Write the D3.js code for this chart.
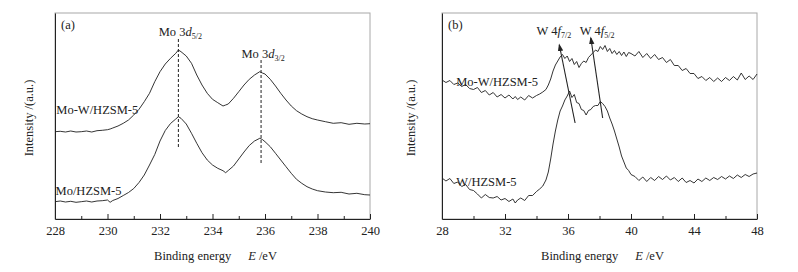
<!DOCTYPE html>
<html lang="en">
<head>
  <meta charset="UTF-8">
  <title>XPS spectra</title>
  <style>
    body { margin: 0; background: #fff; }
    svg text { font-family: "Liberation Serif", "DejaVu Serif", "Times New Roman", serif; fill: #222; }
  </style>
</head>
<body>
<div id="chart"></div>

<script src="https://cdn.jsdelivr.net/npm/d3@7/dist/d3.min.js"></script>
<script>
  // ---- data: panel (a), Mo 3d region ----
  const energyA = [228.0, 228.2, 228.4, 228.6, 228.8, 229.0, 229.2, 229.4, 229.6, 229.8, 230.0, 230.1, 230.2, 230.4,
    230.6, 230.8, 231.0, 231.2, 231.4, 231.6, 231.8, 232.0, 232.2, 232.4, 232.6, 232.7, 232.8, 233.0, 233.2, 233.4,
    233.6, 233.8, 234.0, 234.2, 234.4, 234.5, 234.6, 234.8, 235.0, 235.2, 235.4, 235.6, 235.8, 235.9, 236.0, 236.2,
    236.4, 236.6, 236.8, 237.0, 237.2, 237.4, 237.6, 237.8, 238.0, 238.3, 238.6, 238.9, 239.2, 239.5, 239.8, 240.0];
  const moW_A = [87.3, 87.7, 87.0, 88.0, 87.0, 87.3, 88.0, 87.0, 88.3, 88.7, 89.3, 90.0, 91.0, 93.0,
    95.7, 99.0, 104.0, 109.7, 117.3, 125.7, 137.3, 147.3, 155.0, 160.7, 165.7, 169.0, 167.3, 163.0, 155.7, 144.0,
    134.0, 125.7, 119.7, 116.3, 113.0, 114.0, 115.0, 120.7, 127.3, 134.0, 139.7, 144.0, 147.3, 146.0, 145.0, 139.7,
    133.0, 125.7, 119.0, 113.0, 108.3, 105.0, 102.3, 100.3, 99.0, 97.3, 95.7, 96.3, 94.7, 95.7, 95.0, 95.3];
  const mo_A = [17.3, 18.0, 17.0, 17.7, 16.7, 17.3, 18.0, 17.0, 18.0, 18.3, 19.0, 16.7, 18.5, 20.5,
    23.5, 26.5, 30.5, 36.5, 44.0, 54.0, 64.5, 78.0, 88.5, 95.5, 100.0, 102.3, 100.7, 95.0, 85.7, 75.7,
    66.3, 59.0, 54.0, 50.7, 48.3, 46.3, 48.5, 53.0, 60.0, 67.0, 73.5, 78.0, 80.7, 79.5, 77.3, 72.3,
    65.7, 59.0, 52.3, 45.7, 39.7, 35.7, 32.3, 30.0, 28.3, 27.0, 26.3, 26.7, 25.0, 25.7, 24.3, 24.0];

  // ---- data: panel (b), W 4f region ----
  const energyB = [28.0, 28.25, 28.5, 28.75, 29.0, 29.25, 29.5, 29.75, 30.0, 30.25, 30.5, 30.75, 31.0, 31.25, 31.5,
    31.75, 32.0, 32.25, 32.5, 32.65, 32.8, 33.0, 33.25, 33.5, 33.75, 34.0, 34.2, 34.4, 34.6, 34.75, 34.9, 35.05,
    35.2, 35.35, 35.5, 35.65, 35.8, 35.95, 36.1, 36.25, 36.4, 36.55, 36.7, 36.85, 37.0, 37.15, 37.3, 37.45, 37.6,
    37.75, 37.9, 38.05, 38.2, 38.35, 38.5, 38.65, 38.8, 38.95, 39.1, 39.25, 39.4, 39.55, 39.7, 39.85, 40.0, 40.25,
    40.5, 40.75, 41.0, 41.25, 41.5, 41.75, 42.0, 42.25, 42.5, 42.75, 43.0, 43.25, 43.5, 43.75, 44.0, 44.25, 44.5,
    44.75, 45.0, 45.25, 45.5, 45.75, 46.0, 46.25, 46.5, 46.75, 47.0, 47.25, 47.5, 47.75, 48.0];
  const moW_B = [139, 136.5, 138.5, 134.5, 136, 132.5, 134.5, 130.5, 129.5, 131.5, 126.5, 128.5, 124, 126.5, 122,
    124.5, 121, 124, 120, 122.5, 119.5, 122, 119, 123.5, 121, 123.5, 125, 127, 129.5, 134, 140, 148,
    154, 158, 162, 164.5, 160.5, 163, 157.5, 160.5, 154.5, 157.5, 151.5, 155.5, 158, 156.5, 161.5, 164, 166.5,
    169, 167.5, 172.5, 169.5, 173.5, 167.5, 170.5, 165.5, 168.5, 164.5, 167.5, 163.5, 167, 162.5, 166.5, 165.5, 163,
    167.5, 161.5, 165.5, 160.5, 164.5, 159.5, 161.5, 156.5, 159.5, 153.5, 153.5, 148.5, 150.5, 145.5, 145.5, 140.5, 142.5,
    138.5, 141.5, 137.5, 141, 137.5, 141.5, 138.5, 142.5, 139, 146, 139.5, 143, 139.5, 145];
  const w_B = [41, 38, 40.5, 35.5, 37, 32.5, 34.5, 29.5, 28.5, 25, 21, 24.5, 21.5, 21, 22.5,
    19, 20.5, 17.5, 20, 16, 19, 21, 18.5, 23.5, 23.5, 27.5, 30, 33, 39, 47, 60, 75,
    88, 99, 108, 113, 119, 123, 128, 121.5, 124.5, 116.5, 115.5, 109.5, 108.5, 104, 108.5, 109.5, 112.5,
    113.5, 113.5, 117.5, 115.5, 112.5, 108, 101, 95, 88, 80, 72, 63, 57, 51, 48.5, 44.5, 42.5,
    38.5, 42, 37.5, 41.5, 38.5, 42.5, 39.5, 43, 39, 41.5, 37.5, 41, 36.5, 38.5, 36, 40, 37.5,
    41, 38.5, 41.5, 39.5, 42.5, 40, 43, 40.5, 44, 41.5, 44.5, 42.5, 45, 46];

  // ---- axes ----
  const xMajorA = [228, 230, 232, 234, 236, 238, 240];
  const xMinorA = [229, 231, 233, 235, 237, 239];
  const xMajorB = [28, 32, 36, 40, 44, 48];
  const xMinorB = [30, 34, 38, 42, 46];

  // peak markers (top/bottom of dashed line, label sits above top)
  const moPeaks = [
    {e: 232.7, top: 181, bottom: 72, label: "Mo 3", orb: "d", sub: "5/2"},
    {e: 235.85, top: 159, bottom: 56, label: "Mo 3", orb: "d", sub: "3/2"}
  ];
  const wArrows = [
    {e0: 36.45, v0: 96, e1: 35.45, v1: 174, label: "W 4", orb: "f", sub: "7/2"},
    {e0: 38.2, v0: 101, e1: 37.45, v1: 181, label: "W 4", orb: "f", sub: "5/2"}
  ];

  const W = 798, H = 272;
  const plotTop = 13, plotBottom = 219;

  const svg = d3.select("#chart").append("svg")
    .attr("width", W)
    .attr("height", H);

  svg.append("defs").append("marker")
    .attr("id", "arrow")
    .attr("viewBox", "0 0 10 10")
    .attr("refX", 8).attr("refY", 5)
    .attr("markerWidth", 7).attr("markerHeight", 7)
    .attr("orient", "auto")
    .append("path")
    .attr("d", "M0,1.5 L10,5 L0,8.5 Z")
    .attr("fill", "#222");

  function drawPanel(opt) {
    const x = d3.scaleLinear().domain(opt.domain).range([opt.left, opt.right]);
    const y = d3.scaleLinear().domain([0, 206]).range([plotBottom, plotTop]);
    const g = svg.append("g");

    // light frame on top / right
    g.append("rect")
      .attr("x", opt.left).attr("y", plotTop)
      .attr("width", opt.right - opt.left).attr("height", plotBottom - plotTop)
      .attr("fill", "none").attr("stroke", "#a8a8a8").attr("stroke-width", 1);

    const line = d3.line()
      .x((d, i) => x(opt.energy[i]))
      .y(d => y(d));

    opt.series.forEach(s => {
      g.append("path")
        .datum(s)
        .attr("fill", "none")
        .attr("stroke", "#1e1e1e")
        .attr("stroke-width", 0.9)
        .attr("stroke-linejoin", "round")
        .attr("d", line);
    });

    // bottom axis, ticks pointing inward
    const bottom = g.append("g")
      .attr("transform", "translate(0," + plotBottom + ")")
      .call(d3.axisBottom(x).tickValues(opt.major).tickSizeInner(-5).tickSizeOuter(0).tickPadding(7));
    bottom.attr("font-family", null);
    bottom.selectAll("text").style("font-size", "12.5px").attr("fill", "#222");
    g.append("g")
      .attr("transform", "translate(0," + plotBottom + ")")
      .call(d3.axisBottom(x).tickValues(opt.minor).tickSizeInner(-3).tickSizeOuter(0).tickFormat(""))
      .select(".domain").remove();
    g.selectAll(".domain, .tick line").attr("stroke", "#222");

    // left axis line only
    g.append("g")
      .attr("transform", "translate(" + opt.left + ",0)")
      .call(d3.axisLeft(y).tickValues([]).tickSizeOuter(0))
      .select(".domain").attr("stroke", "#222");

    // axis titles
    const mid = (opt.left + opt.right) / 2;
    const xt = g.append("text")
      .attr("x", mid + 3).attr("y", 260)
      .attr("text-anchor", "middle")
      .style("font-size", "12.5px");
    xt.append("tspan").text("Binding energy");
    xt.append("tspan").attr("dx", 17).style("font-style", "italic").text("E");
    xt.append("tspan").attr("dx", 3).text("/eV");

    g.append("text")
      .attr("transform", "translate(" + (opt.left - opt.yTitleGap) + "," + ((plotTop + plotBottom) / 2 + 2) + ") rotate(-90)")
      .attr("text-anchor", "middle")
      .style("font-size", "12.5px")
      .text("Intensity /(a.u.)");

    g.append("text")
      .attr("x", opt.left + 6).attr("y", 29)
      .style("font-size", "12.5px")
      .text(opt.tag);

    opt.names.forEach(n => {
      g.append("text")
        .attr("x", x(n.e)).attr("y", y(n.v))
        .style("font-size", "12.5px")
        .text(n.text);
    });

    return {g, x, y};
  }

  function peakLabel(g, px, py, p) {
    const t = g.append("text")
      .attr("x", px).attr("y", py)
      .attr("text-anchor", "middle")
      .style("font-size", "12.5px");
    t.append("tspan").text(p.label);
    t.append("tspan").style("font-style", "italic").text(p.orb);
    t.append("tspan").attr("dy", 3).style("font-size", "8px").text(p.sub);
  }

  // panel (a)
  const pa = drawPanel({
    domain: [228, 240], left: 55, right: 370, yTitleGap: 22,
    energy: energyA, series: [moW_A, mo_A],
    major: xMajorA, minor: xMinorA, tag: "(a)",
    names: [{e: 228.05, v: 105, text: "Mo-W/HZSM-5"}, {e: 228.02, v: 24, text: "Mo/HZSM-5"}]
  });
  moPeaks.forEach(p => {
    pa.g.append("line")
      .attr("x1", pa.x(p.e)).attr("x2", pa.x(p.e))
      .attr("y1", pa.y(p.bottom)).attr("y2", pa.y(p.top))
      .attr("stroke", "#222").attr("stroke-width", 1)
      .attr("stroke-dasharray", "3,2");
    peakLabel(pa.g, pa.x(p.e) + 2, pa.y(p.top) - 2, p);
  });

  // panel (b)
  const pb = drawPanel({
    domain: [28, 48], left: 442, right: 757, yTitleGap: 27,
    energy: energyB, series: [moW_B, w_B],
    major: xMajorB, minor: xMinorB, tag: "(b)",
    names: [{e: 28.9, v: 133, text: "Mo-W/HZSM-5"}, {e: 28.9, v: 33, text: "W/HZSM-5"}]
  });
  wArrows.forEach(a => {
    pb.g.append("line")
      .attr("x1", pb.x(a.e0)).attr("y1", pb.y(a.v0))
      .attr("x2", pb.x(a.e1)).attr("y2", pb.y(a.v1))
      .attr("stroke", "#222").attr("stroke-width", 1.1)
      .attr("marker-end", "url(#arrow)");
  });
  peakLabel(pb.g, pb.x(35.1), 35, wArrows[0]);
  peakLabel(pb.g, pb.x(37.85), 35, wArrows[1]);
</script>
</body>
</html>
